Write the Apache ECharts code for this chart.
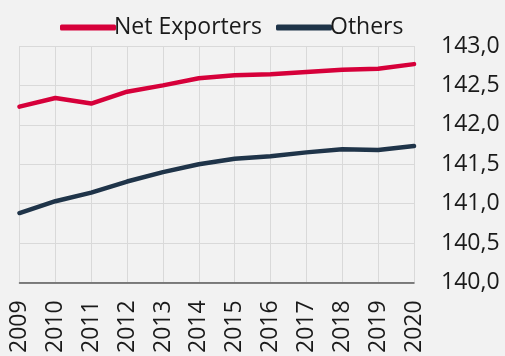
<!DOCTYPE html>
<html><head><meta charset="utf-8">
<script src="https://cdn.jsdelivr.net/npm/echarts@6/dist/echarts.min.js"></script>
<style>html,body{margin:0;padding:0;background:#f2f2f2;}#c{width:505px;height:356px;}</style>
</head><body><div id="c"></div>
<script>
const years = ['2009','2010','2011','2012','2013','2014','2015','2016','2017','2018','2019','2020'];
const netExporters = [142.23,142.34,142.27,142.42,142.50,142.59,142.63,142.64,142.67,142.70,142.71,142.77];
const others = [140.88,141.03,141.14,141.28,141.40,141.50,141.57,141.60,141.65,141.69,141.68,141.73];
const yTicks = {min:140, max:143, interval:0.5};
const chart = echarts.init(document.getElementById('c'));
const font = '"Open Sans", sans-serif';
chart.setOption({
  backgroundColor:'#f2f2f2',
  animation:false,
  legend:{
    left:55, top:11, itemWidth:56, itemHeight:6, itemGap:14,
    icon:'roundRect',
    textStyle:{fontFamily:font, fontSize:23, color:'#1a1a1a', padding:[0,0,0,-7]},
    data:['Net Exporters','Others']
  },
  grid:{left:19.5, right:91, top:46, bottom:70},
  xAxis:{
    type:'category', data:years, boundaryGap:false,
    axisLine:{lineStyle:{color:'#595959', width:1.5}},
    axisTick:{show:false},
    splitLine:{show:true, lineStyle:{color:'#d9d9d9', width:1}},
    axisLabel:{rotate:90, fontFamily:font, fontSize:23, color:'#1a1a1a', margin:18, interval:0}
  },
  yAxis:{
    type:'value', position:'right', min:yTicks.min, max:yTicks.max, interval:yTicks.interval,
    axisLine:{show:false}, axisTick:{show:false},
    splitLine:{lineStyle:{color:'#d9d9d9', width:1}},
    axisLabel:{fontFamily:font, fontSize:23, color:'#1a1a1a', margin:27,
      formatter:v=>v.toFixed(1).replace('.',',')}
  },
  series:[
    {name:'Net Exporters', type:'line', data:netExporters, symbol:'none', smooth:false,
     color:'#d6003a', lineStyle:{width:4.5, color:'#d6003a', cap:'round'}},
    {name:'Others', type:'line', data:others, symbol:'none',
     color:'#1f3449', lineStyle:{width:4.5, color:'#1f3449', cap:'round'}}
  ]
});
</script></body></html>
